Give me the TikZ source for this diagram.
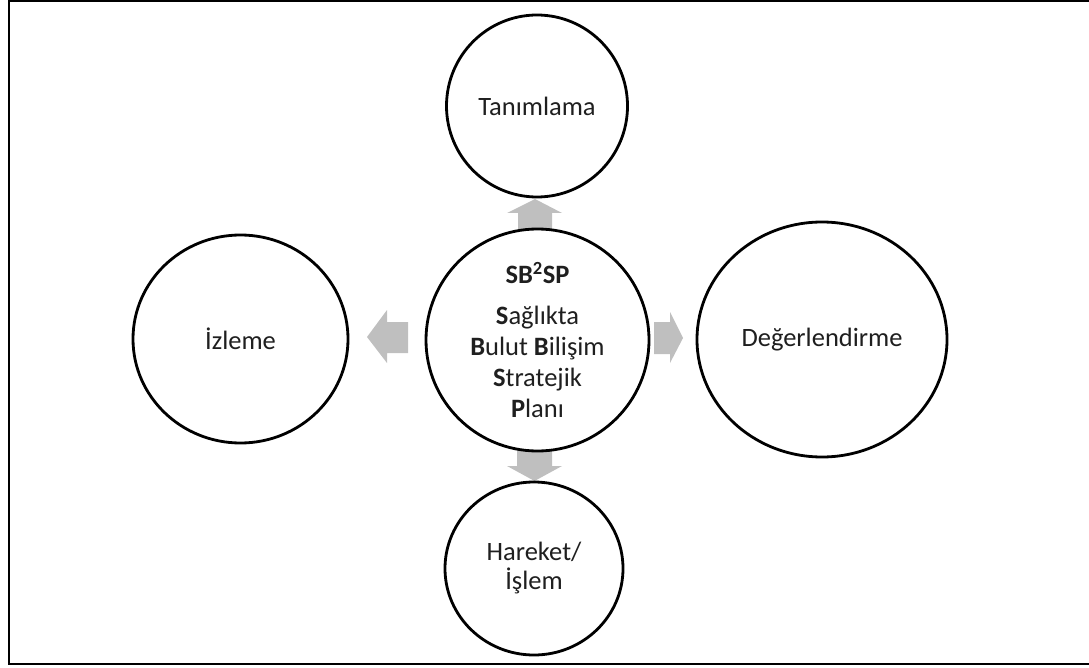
\documentclass[tikz,border=0pt]{standalone}
\usepackage{fontspec}
\setmainfont{Carlito}
\usetikzlibrary{shapes.geometric}
\tikzset{
  stage/.style={ellipse,draw,fill=white,line width=2.8pt,inner sep=0pt,text=black!88,align=center,font=\fontsize{26.5}{29}\selectfont},
  blockarrow/.style={fill=black!25,draw=none}
}

\begin{document}
\begin{tikzpicture}[x=1pt,y=-1pt]
  \useasboundingbox (0,0) rectangle (1089,668);
  \draw[line width=2pt] (8.5,1) rectangle (1095,663.5);
  % arrows
  \fill[blockarrow] (518,231) -- (518,213) -- (507,213) -- (535,199) -- (562,213) -- (552,213) -- (552,231) -- cycle;
  \fill[blockarrow] (408,322) -- (387,322) -- (387,310) -- (367,337) -- (387,363) -- (387,353) -- (408,353) -- cycle;
  \fill[blockarrow] (654,322) -- (670,322) -- (670,312) -- (683,338) -- (670,363) -- (670,354) -- (654,354) -- cycle;
  \fill[blockarrow] (517,450) -- (552,450) -- (552,466) -- (562,466) -- (534.5,481) -- (507,466) -- (517,466) -- cycle;
  % circles
  \node[stage,minimum width=181pt,minimum height=182pt] (tanim) at (537,106) {Tanımlama};
  \node[stage,minimum width=215pt,minimum height=208pt] (izle) at (240.5,339) {İzleme};
  \node[stage,minimum width=250pt,minimum height=235pt] (deger) at (822,339.5) {Değerlendirme};
  \node[stage,minimum width=178pt,minimum height=173pt] (hareket) at (534,568.5) {Hareket/\\İşlem};
  \node[stage,minimum width=223pt,minimum height=222pt,font=\fontsize{26.5}{31}\selectfont] (plan) at (537.5,340)
    {\textbf{SB\textsuperscript{2}SP}\\[10pt] \textbf{S}ağlıkta\\ \textbf{B}ulut \textbf{B}ilişim\\ \textbf{S}tratejik\\ \textbf{P}lanı};
\end{tikzpicture}
\end{document}
